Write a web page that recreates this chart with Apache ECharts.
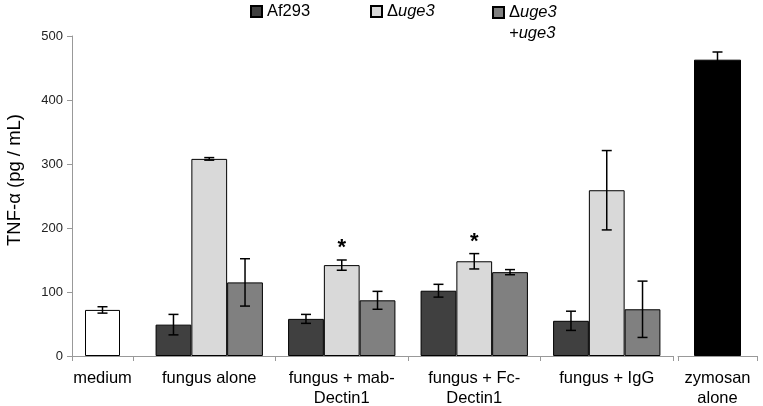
<!DOCTYPE html>
<html><head><meta charset="utf-8">
<script src="https://cdn.jsdelivr.net/npm/echarts@6/dist/echarts.min.js"></script>
<style>html,body{margin:0;padding:0;background:#fff}#c{width:763px;height:406px}</style>
</head><body><div id="c"></div>
<script>
// ---------------- data ----------------
const controlCategory = ['medium'];
const controlValue = [72];
const controlErr = [5];

const fungusCategories = ['fungus alone', 'fungus + mab-\nDectin1', 'fungus + Fc-\nDectin1', 'fungus + IgG'];
const af293 = [49, 58, 102, 55];
const af293Err = [16, 7, 10, 15];
const dUge3 = [308, 142, 148, 259];
const dUge3Err = [2, 8, 12, 62];
const dUge3Star = ['', '*', '*', ''];
const comp = [115, 87, 131, 73];
const compErr = [37, 14, 4, 44];

const zymCategory = ['zymosan\nalone'];
const zymValue = [463];
const zymErr = [12];

const yMin = 0, yMax = 500, yStep = 100;
const seriesNames = ['Af293', 'Δuge3', 'Δuge3+uge3'];
const yTitle = 'TNF-α (pg / mL)';

// ---------------- style ----------------
const FONT = 'Liberation Sans, Arial, sans-serif';
const AXIS = '#999';
const GROUP_FRAC = 0.81;

function errSeries(axisIdx, means, errs, slot, nSlots, stars) {
  return {
    type: 'custom', xAxisIndex: axisIdx, yAxisIndex: axisIdx, z: 10, silent: true,
    data: means.map((m, i) => [i, m - errs[i], m + errs[i]]),
    encode: { x: 0, y: [1, 2] },
    renderItem(params, api) {
      const band = api.size([1, 0])[0];
      const groupW = band * GROUP_FRAC;
      const barW = groupW / nSlots;
      const hi = api.coord([api.value(0), api.value(2)]);
      const lo = api.coord([api.value(0), api.value(1)]);
      const x = nSlots === 1 ? hi[0] : hi[0] - groupW / 2 + barW * (slot + 0.5);
      const hw = 5;
      const st = { stroke: '#000', lineWidth: 1.5 };
      const ch = [
        { type: 'line', shape: { x1: x, y1: hi[1], x2: x, y2: lo[1] }, style: st },
        { type: 'line', shape: { x1: x - hw, y1: hi[1], x2: x + hw, y2: hi[1] }, style: st },
        { type: 'line', shape: { x1: x - hw, y1: lo[1], x2: x + hw, y2: lo[1] }, style: st }
      ];
      const s = stars ? stars[params.dataIndex] : '';
      if (s) {
        ch.push({ type: 'text', x: x, y: hi[1] - 1,
          style: { text: s, fill: '#000', font: 'bold 22px ' + FONT, align: 'center', verticalAlign: 'bottom' } });
      }
      return { type: 'group', children: ch };
    }
  };
}

const xAxisBase = {
  type: 'category',
  axisLine: { show: true, lineStyle: { color: AXIS, width: 1 } },
  axisTick: { show: true, length: 5, lineStyle: { color: AXIS } },
  axisLabel: { interval: 0, fontSize: 16.5, fontFamily: FONT, color: '#000', lineHeight: 20, margin: 12 },
  splitLine: { show: false }
};
const yBase = { type: 'value', min: yMin, max: yMax, interval: yStep, splitLine: { show: false } };

const legendBase = {
  icon: 'rect', itemWidth: 11, itemHeight: 11, padding: 0,
  textStyle: { fontSize: 16.5, fontFamily: FONT, color: '#000',
    rich: { n: { fontSize: 16.5, fontFamily: FONT, color: '#000', lineHeight: 21 },
            i: { fontSize: 16.5, fontFamily: FONT, color: '#000', fontStyle: 'italic', lineHeight: 21 } } },
  selectedMode: false
};

const gridBase = { top: 36, bottom: 50, containLabel: false, outerBoundsMode: 'none' };

const option = {
  animation: false,
  backgroundColor: '#fff',
  grid: [
    Object.assign({}, gridBase, { left: 72, width: 61 }),
    Object.assign({}, gridBase, { left: 143, width: 530 }),
    Object.assign({}, gridBase, { left: 678, width: 79 })
  ],
  legend: [
    Object.assign({}, legendBase, { data: [seriesNames[0]], left: 250, top: 3 }),
    Object.assign({}, legendBase, { data: [seriesNames[1]], left: 370, top: 3,
      formatter: () => '{n|Δ}{i|uge3}' }),
    Object.assign({}, legendBase, { data: [seriesNames[2]], left: 492, top: 4,
      formatter: () => '{n|Δ}{i|uge3}\n{i|+uge3}',
      textStyle: Object.assign({}, legendBase.textStyle, { padding: [21, 0, 0, 0] }) })
  ],
  xAxis: [
    Object.assign({}, xAxisBase, { gridIndex: 0, data: controlCategory }),
    Object.assign({}, xAxisBase, { gridIndex: 1, data: fungusCategories,
      axisTick: Object.assign({}, xAxisBase.axisTick, { interval: (i) => i !== 0 }) }),
    Object.assign({}, xAxisBase, { gridIndex: 2, data: zymCategory })
  ],
  yAxis: [
    Object.assign({}, yBase, { gridIndex: 0,
      axisLine: { show: true, lineStyle: { color: AXIS } },
      axisTick: { show: true, length: 5, lineStyle: { color: AXIS } },
      axisLabel: { fontSize: 13, fontFamily: FONT, color: '#222', margin: 9 },
      name: yTitle, nameLocation: 'middle', nameRotate: 90, nameGap: 48,
      nameTextStyle: { fontSize: 18.5, fontFamily: FONT, color: '#000', padding: [0, 0, 0, 32] } }),
    Object.assign({}, yBase, { gridIndex: 1, show: false }),
    Object.assign({}, yBase, { gridIndex: 2, show: false })
  ],
  graphic: [
    { type: 'line', silent: true, shape: { x1: 133, y1: 356.5, x2: 143, y2: 356.5 },
      style: { stroke: AXIS, lineWidth: 1 } }
  ],
  series: [
    { type: 'bar', name: 'medium', xAxisIndex: 0, yAxisIndex: 0, data: controlValue, barWidth: 35,
      itemStyle: { color: '#fff', borderColor: '#000', borderWidth: 1 } },
    { type: 'bar', name: seriesNames[0], xAxisIndex: 1, yAxisIndex: 1, data: af293,
      barGap: '0%', barCategoryGap: '19%',
      itemStyle: { color: '#404040', borderColor: '#000', borderWidth: 1 } },
    { type: 'bar', name: seriesNames[1], xAxisIndex: 1, yAxisIndex: 1, data: dUge3,
      barGap: '0%', barCategoryGap: '19%',
      itemStyle: { color: '#d9d9d9', borderColor: '#000', borderWidth: 1 } },
    { type: 'bar', name: seriesNames[2], xAxisIndex: 1, yAxisIndex: 1, data: comp,
      barGap: '0%', barCategoryGap: '19%',
      itemStyle: { color: '#808080', borderColor: '#000', borderWidth: 1 } },
    { type: 'bar', name: 'zymosan', xAxisIndex: 2, yAxisIndex: 2, data: zymValue, barWidth: 47,
      itemStyle: { color: '#000', borderColor: '#000', borderWidth: 1 } },
    errSeries(0, controlValue, controlErr, 0, 1, null),
    errSeries(1, af293, af293Err, 0, 3, null),
    errSeries(1, dUge3, dUge3Err, 1, 3, dUge3Star),
    errSeries(1, comp, compErr, 2, 3, null),
    errSeries(2, zymValue, zymErr, 0, 1, null)
  ]
};

const chart = echarts.init(document.getElementById('c'), null, { renderer: 'canvas' });
chart.setOption(option);
</script>
</body></html>
